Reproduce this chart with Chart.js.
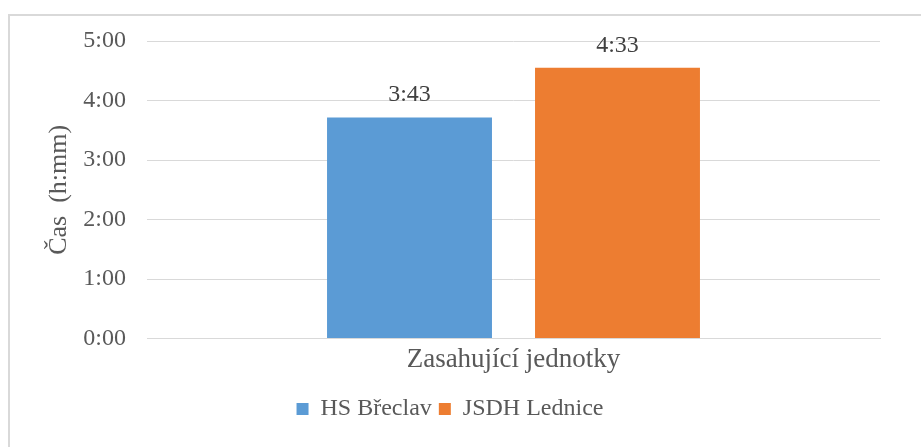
<!DOCTYPE html>
<html>
<head>
<meta charset="utf-8">
<script src="https://cdn.jsdelivr.net/npm/chart.js@4"></script>
<style>
  html, body { margin: 0; padding: 0; background: #fff; }
  #wrap { position: relative; width: 921px; height: 447px; overflow: hidden; }
  #frame { position: absolute; left: 8px; top: 14px; width: 1000px; height: 500px; border: 2px solid #d9d9d9; box-sizing: border-box; }
  canvas { position: absolute; left: 0; top: 0; }
</style>
</head>
<body>
<div id="wrap">
  <div id="frame"></div>
  <canvas id="myChart" width="921" height="447"></canvas>
</div>
<script>
// times in minutes
const categories = ['Zasahující jednotky'];
const seriesNames = ['HS Břeclav', 'JSDH Lednice'];
const seriesValues = [[223], [273]];
const seriesColors = ['#5b9bd5', '#ed7d31'];
const yTicks = [0, 60, 120, 180, 240, 300];

const serif = "'Liberation Serif', 'Times New Roman', Times, serif";

function hmm(v) {
  const h = Math.floor(v / 60);
  const m = Math.round(v % 60);
  return h + ':' + (m < 10 ? '0' : '') + m;
}

const valueLabels = {
  id: 'valueLabels',
  afterDatasetsDraw(chart) {
    const ctx = chart.ctx;
    ctx.save();
    ctx.font = '24px ' + serif;
    ctx.fillStyle = '#404040';
    ctx.textAlign = 'center';
    ctx.textBaseline = 'alphabetic';
    chart.data.datasets.forEach((ds, i) => {
      chart.getDatasetMeta(i).data.forEach((bar, j) => {
        ctx.fillText(hmm(ds.data[j]), bar.x, bar.y - 16);
      });
    });
    ctx.restore();
  },
};

const ctx = document.getElementById('myChart');
new Chart(ctx, {
  type: 'bar',
  data: {
    labels: categories,
    datasets: seriesNames.map((name, i) => ({
      label: name,
      data: seriesValues[i],
      backgroundColor: seriesColors[i],
      categoryPercentage: 0.5675,
      barPercentage: 0.793,
    })),
  },
  options: {
    responsive: false,
    animation: false,
    layout: { padding: { left: 20, right: 41, top: 41, bottom: 16 } },
    plugins: {
      tooltip: { enabled: false },
      legend: {
        position: 'bottom',
        labels: {
          font: { family: serif, size: 24 },
          color: '#595959',
          boxWidth: 12,
          boxHeight: 12,
          padding: 7,
        },
      },
    },
    scales: {
      x: {
        grid: { display: false },
        border: { display: true, color: '#d9d9d9', width: 1 },
        ticks: { font: { family: serif, size: 27 }, color: '#595959', padding: -3 },
        afterFit(scale) {
          scale.height += 17;
        },
      },
      y: {
        min: 0,
        max: 300,
        afterBuildTicks(scale) {
          scale.ticks = yTicks.map(v => ({ value: v }));
        },
        afterFit(scale) {
          scale.width = 127;
        },
        grid: { color: '#d9d9d9', lineWidth: 1, drawTicks: false },
        border: { display: false },
        ticks: {
          font: { family: serif, size: 24 },
          color: '#595959',
          padding: 21,
          callback: v => hmm(v),
        },
        title: {
          display: true,
          text: 'Čas  (h:mm)',
          font: { family: serif, size: 26 },
          color: '#595959',
          padding: { top: 24, bottom: 0 },
        },
      },
    },
  },
  plugins: [valueLabels],
});
</script>
</body>
</html>
